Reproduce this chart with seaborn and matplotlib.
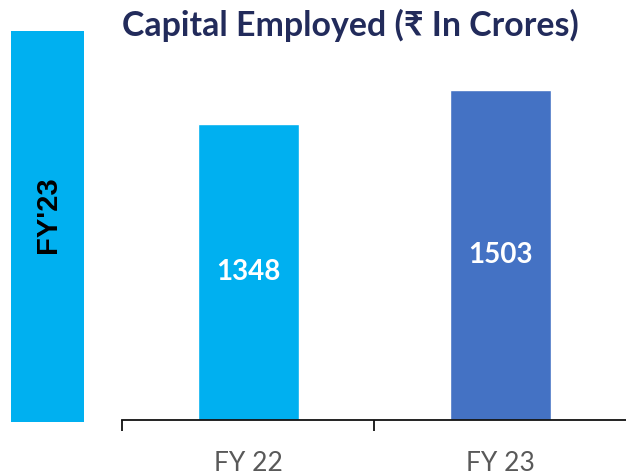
import numpy as np
import pandas as pd
import matplotlib
matplotlib.use("Agg")
import matplotlib.pyplot as plt
from matplotlib.patches import Rectangle
import seaborn as sns

years = ["FY 22", "FY 23"]
capital = [1348, 1503]
bar_colors = ["#00B0F0", "#4472C4"]
title_text = "Capital Employed (\u20b9 In Crores)"
side_label = "FY'23"

df = pd.DataFrame({"year": years, "capital": capital})

sns.set_style("white")
plt.rcParams["font.family"] = ["Lato", "DejaVu Sans"]

fig = plt.figure(figsize=(6.26, 4.75), dpi=100)
ax = fig.add_axes([0.195, 0.1158, 0.806, 0.8842])

sns.barplot(data=df, x="year", y="capital", hue="year", palette=bar_colors,
            width=0.4, legend=False, ax=ax, saturation=1)

ax.set_xlim(-0.5, 1.5)
ax.set_ylim(0, 1913)

# value labels in the middle of each bar
for i, v in enumerate(capital):
    ax.text(i, v / 2, str(v), ha="center", va="center", color="white",
            fontsize=20, fontweight="bold")

for s in ["top", "right", "left"]:
    ax.spines[s].set_visible(False)
ax.spines["bottom"].set_color("#111111")
ax.spines["bottom"].set_linewidth(1.3)
ax.set_yticks([])

# ticks at category boundaries, labels at centers
ax.set_xticks([-0.5, 0.5, 1.5])
ax.set_xticklabels([])
ax.set_xticks([0, 1], minor=True)
ax.set_xticklabels(years, minor=True)
ax.tick_params(axis="x", which="major", bottom=True, length=8, width=1.3,
               color="#111111", direction="out")
ax.tick_params(axis="x", which="minor", bottom=True, length=0, pad=22,
               labelsize=19, labelcolor="#595959")
ax.set_xlabel("")
ax.set_ylabel("")

fig.text(0.56, 0.947, title_text, ha="center", va="center", fontsize=24.4,
         fontweight="bold", color="#222B5B")

# side tag
fig.patches.append(Rectangle((11 / 626, 53 / 475), 73 / 626, 391 / 475,
                             transform=fig.transFigure, facecolor="#00B0F0",
                             edgecolor="none", zorder=0))
fig.text(47.5 / 626, 1 - 215 / 475, side_label, rotation=90, ha="center", va="center",
         fontsize=21, fontweight="bold", color="black", family=["Liberation Sans", "DejaVu Sans"])

fig.savefig("out.png", dpi=100)
